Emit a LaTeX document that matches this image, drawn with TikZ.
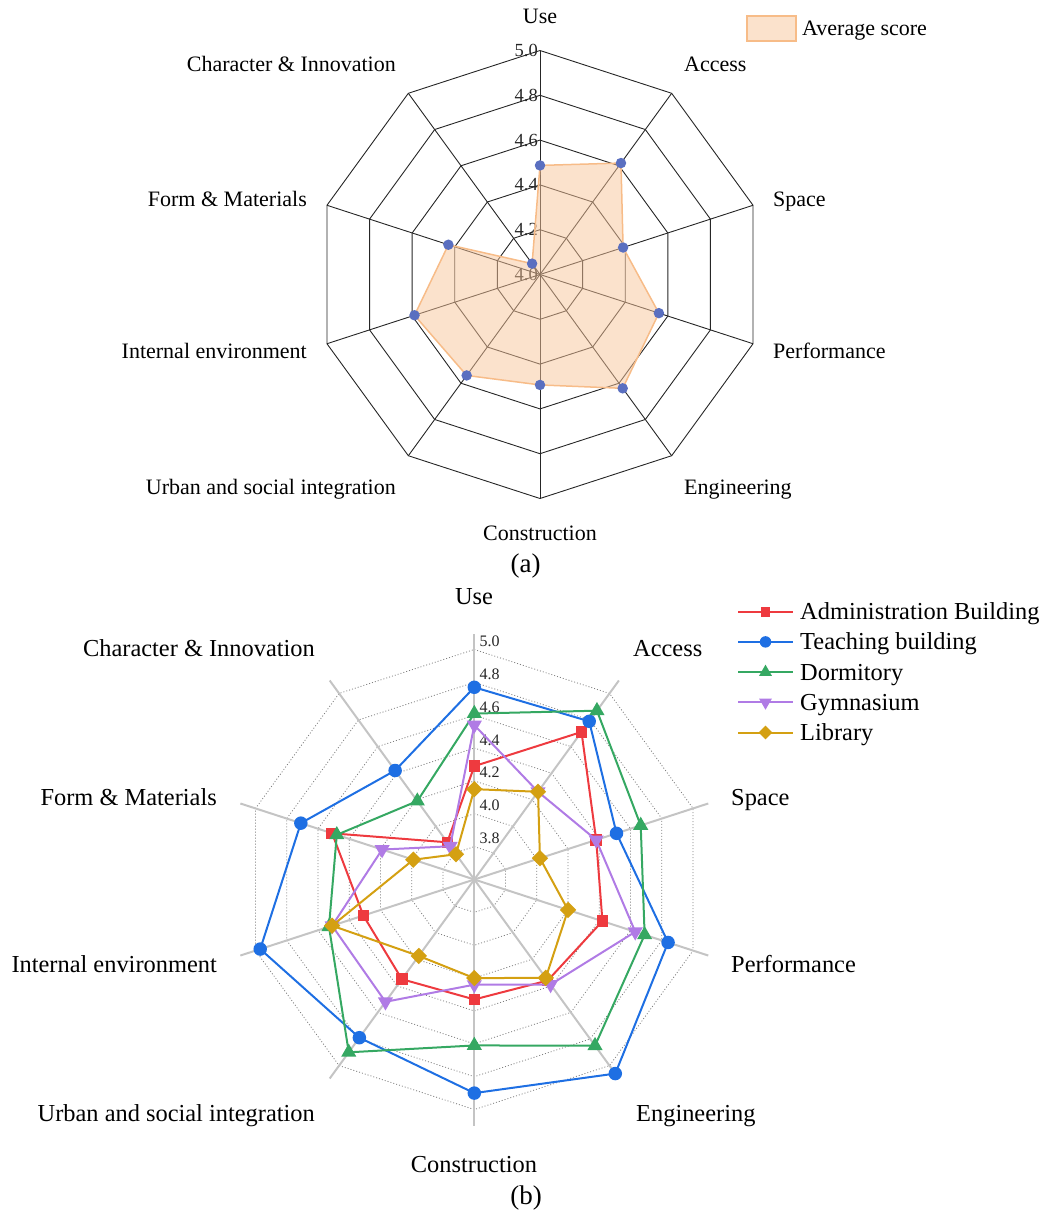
\documentclass[tikz,border=0pt]{standalone}
\usepackage{fontspec}
\setmainfont{Liberation Serif}
\usetikzlibrary{calc,shapes.geometric}
\definecolor{cRed}{HTML}{EE3A3F}
\definecolor{cBlue}{HTML}{1E6FE3}
\definecolor{cGreen}{HTML}{35A862}
\definecolor{cPurple}{HTML}{B07BE5}
\definecolor{cGold}{HTML}{D4A012}
\definecolor{cAxis}{HTML}{C4C4C4}
\definecolor{cFill}{HTML}{F8C59A}
\definecolor{cEdge}{HTML}{F7BC88}
\definecolor{cDot}{HTML}{5A6FC0}

\newcommand{\drawseries}[4]{%
  \foreach \v [count=\i from 0] in {#4} {
    \pgfmathsetmacro{\ang}{36*\i-90}
    \pgfmathsetmacro{\rad}{(\v-3.6)*164.3}
    \path (Cb) ++(\ang:\rad) coordinate (#1-\i);
  }
  \draw[#2, line width=2pt, line join=round] (#1-0) -- (#1-1) -- (#1-2) -- (#1-3) -- (#1-4) -- (#1-5) -- (#1-6) -- (#1-7) -- (#1-8) -- (#1-9) -- cycle;
  \foreach \i in {0,...,9} { \node[#3, fill=#2] (#1-m\i) at (#1-\i) {}; }
}

\begin{document}
\begin{tikzpicture}[x=1pt,y=-1pt,
  laba/.style={font=\fontsize{22}{26}\selectfont, inner sep=0pt},
  labb/.style={font=\fontsize{24.4}{28}\selectfont, inner sep=0pt},
  ticka/.style={font=\fontsize{18.5}{20}\selectfont, inner sep=0pt, text=black!85},
  tickb/.style={font=\fontsize{16}{18}\selectfont, inner sep=0pt, text=black!85},
  capt/.style={font=\fontsize{27}{30}\selectfont, inner sep=0pt},
  gridA/.style={black!85, line width=0.9pt},
  gridB/.style={black!50, line width=0.8pt, dash pattern=on 1pt off 2pt},
  axisB/.style={cAxis, line width=2pt},
  mksq/.style={rectangle, minimum size=11.5pt, inner sep=0pt, draw=none},
  mkci/.style={circle, minimum size=13.5pt, inner sep=0pt, draw=none},
  mktu/.style={regular polygon, regular polygon sides=3, minimum size=17.5pt, inner sep=0pt, draw=none},
  mktd/.style={regular polygon, regular polygon sides=3, shape border rotate=180, minimum size=17.5pt, inner sep=0pt, draw=none},
  mkdi/.style={diamond, minimum size=16.5pt, inner sep=0pt, draw=none},
]
\useasboundingbox (0,0) rectangle (1042,1213);

% ================= (a) =================
\coordinate (Ca) at (540,274.5);
\foreach \k in {1,...,5} {
  \pgfmathsetmacro{\r}{44.8*\k}
  \draw[gridA, line join=round] ($(Ca)+(-90:\r)$) \foreach \j in {1,...,9} { -- ($(Ca)+({36*\j-90}:\r)$) } -- cycle;
}
\foreach \j in {0,...,9} { \draw[gridA] (Ca) -- ($(Ca)+({36*\j-90}:224)$); }
\foreach \t [count=\k from 0] in {4.0,4.2,4.4,4.6,4.8,5.0} {
  \node[ticka, anchor=base east] (ta\k) at ($(Ca)+(-2,{6-44.8*\k})$) {\t};
}
\foreach \v [count=\i from 0] in {4.487,4.615,4.39,4.558,4.628,4.493,4.557,4.589,4.43,4.06} {
  \pgfmathsetmacro{\ang}{36*\i-90}
  \pgfmathsetmacro{\rad}{(\v-4)*224}
  \path (Ca) ++(\ang:\rad) coordinate (av-\i);
}
\draw[fill=cFill, fill opacity=0.5, draw=cEdge, line width=1.5pt, line join=round]
  (av-0) -- (av-1) -- (av-2) -- (av-3) -- (av-4) -- (av-5) -- (av-6) -- (av-7) -- (av-8) -- (av-9) -- cycle;
\foreach \i in {0,...,9} { \node[circle, fill=cDot, minimum size=10.5pt, inner sep=0pt] (avm\i) at (av-\i) {}; }

\node[laba, anchor=base] (la0) at (540,23) {Use};
\node[laba, anchor=base west] (la1) at (684,71) {Access};
\node[laba, anchor=base west] (la2) at (773,206) {Space};
\node[laba, anchor=base west] (la3) at (773,358) {Performance};
\node[laba, anchor=base west] (la4) at (684,494) {Engineering};
\node[laba, anchor=base] (la5) at (540,540) {Construction};
\node[laba, anchor=base east] (la6) at (396,494) {Urban and social integration};
\node[laba, anchor=base east] (la7) at (307,358) {Internal environment};
\node[laba, anchor=base east] (la8) at (307,206) {Form \& Materials};
\node[laba, anchor=base east] (la9) at (396,71) {Character \& Innovation};

\node[draw=cEdge, fill=cFill, fill opacity=0.5, line width=1.5pt, minimum width=49pt, minimum height=25pt, inner sep=0pt] (legA) at (771.5,28.5) {};
\node[laba, anchor=base west] (legAt) at (802,35.5) {Average score};

\node[capt, anchor=base] (capa) at (525.5,572) {(a)};

% ================= (b) =================
\coordinate (Cb) at (474.3,879.5);
\foreach \k in {1,...,7} {
  \pgfmathsetmacro{\r}{32.86*\k}
  \draw[gridB] ($(Cb)+(-90:\r)$) \foreach \j in {1,...,9} { -- ($(Cb)+({36*\j-90}:\r)$) } -- cycle;
}
\foreach \j in {0,...,9} { \draw[axisB] (Cb) -- ($(Cb)+({36*\j-90}:246)$); }
\foreach \t [count=\k from 1] in {3.8,4.0,4.2,4.4,4.6,4.8,5.0} {
  \node[tickb, anchor=base west] (tb\k) at ($(Cb)+(5,{-3-32.86*\k})$) {\t};
}

\drawseries{adm}{cRed}{mksq}{4.29,4.71,4.38,4.42,4.36,4.33,4.35,4.31,4.51,3.88}
\drawseries{tea}{cBlue}{mkci}{4.77,4.79,4.51,4.84,5.06,4.90,4.79,4.97,4.71,4.42}
\drawseries{dor}{cGreen}{mktu}{4.61,4.87,4.665,4.69,4.85,4.61,4.90,4.53,4.48,4.19}
\drawseries{gym}{cPurple}{mktd}{4.54,4.26,4.38,4.63,4.39,4.24,4.52,4.51,4.19,3.85}
\drawseries{lib}{cGold}{mkdi}{4.15,4.26,4.02,4.20,4.34,4.20,4.175,4.51,3.99,3.79}

\node[labb, anchor=base] (lb0) at (474,604) {Use};
\node[labb, anchor=base west] (lb1) at (633,656) {Access};
\node[labb, anchor=base west] (lb2) at (731,805) {Space};
\node[labb, anchor=base west] (lb3) at (731,972) {Performance};
\node[labb, anchor=base west] (lb4) at (636,1121) {Engineering};
\node[labb, anchor=base] (lb5) at (474,1172) {Construction};
\node[labb, anchor=base east] (lb6) at (315,1121) {Urban and social integration};
\node[labb, anchor=base east] (lb7) at (217,972) {Internal environment};
\node[labb, anchor=base east] (lb8) at (217,805) {Form \& Materials};
\node[labb, anchor=base east] (lb9) at (315,656) {Character \& Innovation};

% legend (b)
\foreach \nm/\col/\mk/\txt [count=\q from 0] in {
  adm/cRed/mksq/Administration Building,
  tea/cBlue/mkci/Teaching building,
  dor/cGreen/mktu/Dormitory,
  gym/cPurple/mktd/Gymnasium,
  lib/cGold/mkdi/Library} {
  \pgfmathsetmacro{\yy}{611.7+30.2*\q}
  \coordinate (lg\nm-a) at (738,\yy);
  \coordinate (lg\nm-b) at (793,\yy);
  \draw[\col, line width=2pt] (lg\nm-a) -- (lg\nm-b);
  \node[\mk, fill=\col, scale=0.85] (lg\nm-m) at (765.5,\yy) {};
  \node[labb, anchor=base west] (lg\nm-t) at (800,\yy+8) {\txt};
}

\node[capt, anchor=base] (capb) at (526,1204) {(b)};
\end{tikzpicture}
\end{document}
